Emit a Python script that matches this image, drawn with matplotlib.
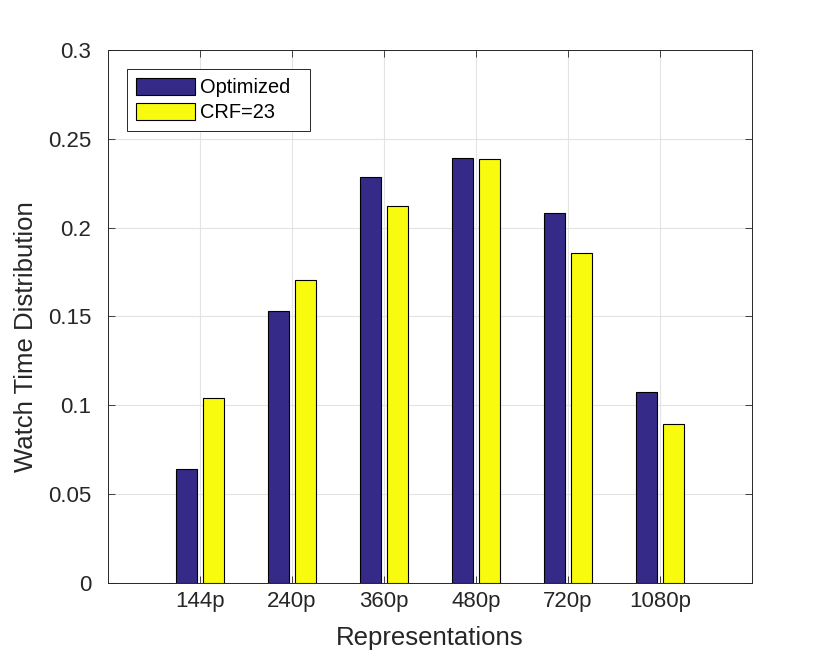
import numpy as np
import matplotlib
matplotlib.use("Agg")
import matplotlib.pyplot as plt

plt.rcParams['font.family'] = ['Liberation Sans', 'DejaVu Sans']

# donnees
representations = ["144p", "240p", "360p", "480p", "720p", "1080p"]
optimized = [0.0642, 0.153, 0.2285, 0.2392, 0.2083, 0.1075]
crf23 = [0.104, 0.1705, 0.2122, 0.2386, 0.1857, 0.0895]

fig = plt.figure(figsize=(8.3, 6.56), dpi=100)
ax = fig.add_axes([0.130, 0.1113, 0.776, 0.8125])

x = np.arange(1, len(representations) + 1)
w = 0.228
ax.bar(x - 0.144, optimized, w, color="#352a87", edgecolor="black", linewidth=0.8, label="Optimized  ", zorder=3)
ax.bar(x + 0.144, crf23, w, color="#f9fb0e", edgecolor="black", linewidth=0.8, label="CRF=23", zorder=3)

ax.set_xlim(0, 7)
ax.set_ylim(0, 0.3)
ax.set_xticks(x)
ax.set_xticklabels(representations)
ax.set_yticks([0, 0.05, 0.1, 0.15, 0.2, 0.25, 0.3])
ax.set_yticklabels(["0", "0.05", "0.1", "0.15", "0.2", "0.25", "0.3"])
ax.grid(True, color="#e3e3e3", linewidth=0.8, zorder=0)
ax.tick_params(direction="in", top=True, right=True, labelsize=16, length=5, width=0.6,
               colors="#262626")
ax.tick_params(axis="x", pad=6)
ax.tick_params(axis="y", pad=12)
for s in ax.spines.values():
    s.set_linewidth(0.7)
    s.set_color("#262626")
    s.set_zorder(4)

ax.set_xlabel("Representations", fontsize=18.5, color="#262626", labelpad=10)
ax.set_ylabel("Watch Time Distribution", fontsize=18.5, color="#262626")
ax.yaxis.set_label_coords(-0.109, 0.463)

leg = ax.legend(loc="upper left", bbox_to_anchor=(0.0295, 0.9644), fontsize=14.4, fancybox=False,
                edgecolor="#262626", framealpha=1, handlelength=2.95, handleheight=0.9,
                borderpad=0.45, labelspacing=0.3, handletextpad=0.25, borderaxespad=0)
leg.get_frame().set_linewidth(0.7)

plt.savefig("out.png", dpi=100)
